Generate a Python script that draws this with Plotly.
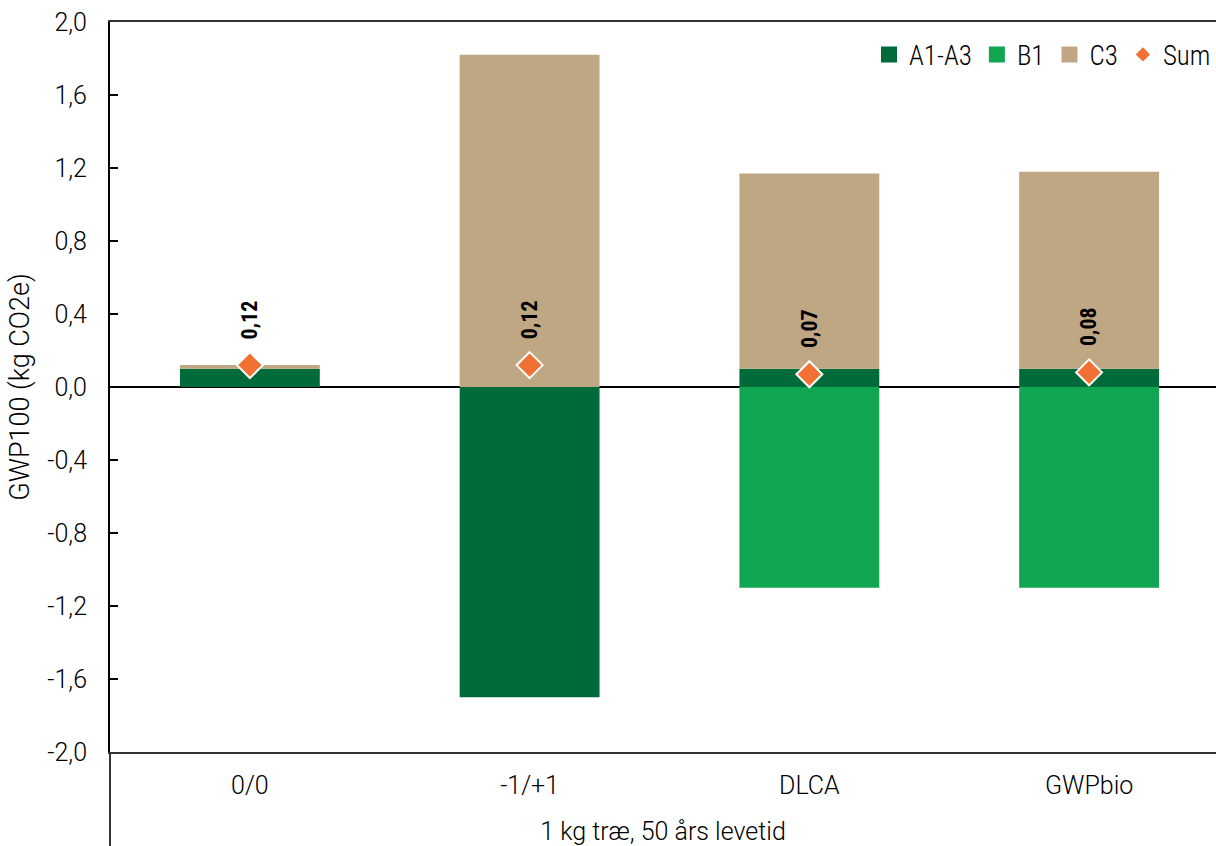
import plotly.graph_objects as go

categories = ["0/0", "-1/+1", "DLCA", "GWPbio"]
a1_a3 = [0.10, -1.70, 0.10, 0.10]
b1 = [0.0, 0.0, -1.10, -1.10]
c3 = [0.02, 1.82, 1.07, 1.08]
sums = [0.12, 0.12, 0.07, 0.08]
sum_labels = ["0,12", "0,12", "0,07", "0,08"]
y_ticks = [-2.0, -1.6, -1.2, -0.8, -0.4, 0.0, 0.4, 0.8, 1.2, 1.6, 2.0]
y_tick_labels = ["-2,0", "-1,6", "-1,2", "-0,8", "-0,4", "0,0", "0,4", "0,8", "1,2", "1,6", "2,0"]

COL_A = "#006B3A"
COL_B = "#10A652"
COL_C = "#BFA783"
COL_S = "#F07133"

cond = "Roboto Condensed, Liberation Sans Narrow, Roboto"
light = "Roboto, Liberation Sans, Arial"

fig = go.Figure()
fig.add_trace(go.Bar(x=categories, y=a1_a3, name="A1-A3", marker=dict(color=COL_A, line=dict(width=0)),
                     width=0.5, showlegend=False))
fig.add_trace(go.Bar(x=categories, y=b1, name="B1", marker=dict(color=COL_B, line=dict(width=0)),
                     width=0.5, showlegend=False))
fig.add_trace(go.Bar(x=categories, y=c3, name="C3", marker=dict(color=COL_C, line=dict(width=0)),
                     width=0.5, showlegend=False))
fig.add_trace(go.Scatter(x=categories, y=sums, name="Sum", mode="markers", showlegend=False,
                         marker=dict(symbol="diamond", size=20, color=COL_S,
                                     line=dict(color="white", width=2))))

# legend entries
for nm, col, sym, sz in [("A1-A3", COL_A, "square", 16), ("B1", COL_B, "square", 16),
                         ("C3", COL_C, "square", 16), ("Sum", COL_S, "diamond", 11)]:
    fig.add_trace(go.Scatter(x=[None], y=[None], name=nm, mode="markers",
                             marker=dict(symbol=sym, size=sz, color=col, line=dict(width=0))))

for c, s, lab in zip(categories, sums, sum_labels):
    fig.add_annotation(x=c, y=s, text="<b>" + lab + "</b>", textangle=-90,
                       showarrow=False, yanchor="bottom", yshift=24,
                       font=dict(family=cond, size=22, color="black"))

fig.add_shape(type="line", xref="paper", yref="paper", x0=0, x1=0, y0=-0.13, y1=0,
              line=dict(color="#333333", width=2))

fig.update_layout(
    width=1216, height=846,
    margin=dict(l=110, r=0, t=22, b=94),
    plot_bgcolor="white", paper_bgcolor="white",
    barmode="relative",
    showlegend=True,
    legend=dict(orientation="h", x=1.0, xanchor="right", y=0.955, yanchor="middle",
                font=dict(family=cond, size=27, weight=300, color="black"),
                itemwidth=30, bgcolor="rgba(0,0,0,0)"),
    xaxis=dict(range=[-0.5, 3.4536], showline=True, mirror=True, linecolor="#333333", linewidth=2,
               ticks="", tickfont=dict(family=light, size=25, weight=300, color="black"),
               ticklabelstandoff=10,
               title=dict(text="1 kg træ, 50 års levetid",
                          font=dict(family=light, size=25, weight=300, color="black"),
                          standoff=24),
               showgrid=False, fixedrange=True),
    yaxis=dict(range=[-2, 2], tickvals=y_ticks, ticktext=y_tick_labels,
               showline=True, linecolor="black", linewidth=2,
               ticks="inside", ticklen=8, tickwidth=2, tickcolor="black",
               tickfont=dict(family=light, size=25, weight=300, color="black"),
               ticklabelstandoff=16,
               title=dict(text="GWP100 (kg CO2e)",
                          font=dict(family=light, size=27, weight=300, color="black"),
                          standoff=10),
               showgrid=False, zeroline=True, zerolinecolor="black", zerolinewidth=2),
)

fig.write_html("out.html")
